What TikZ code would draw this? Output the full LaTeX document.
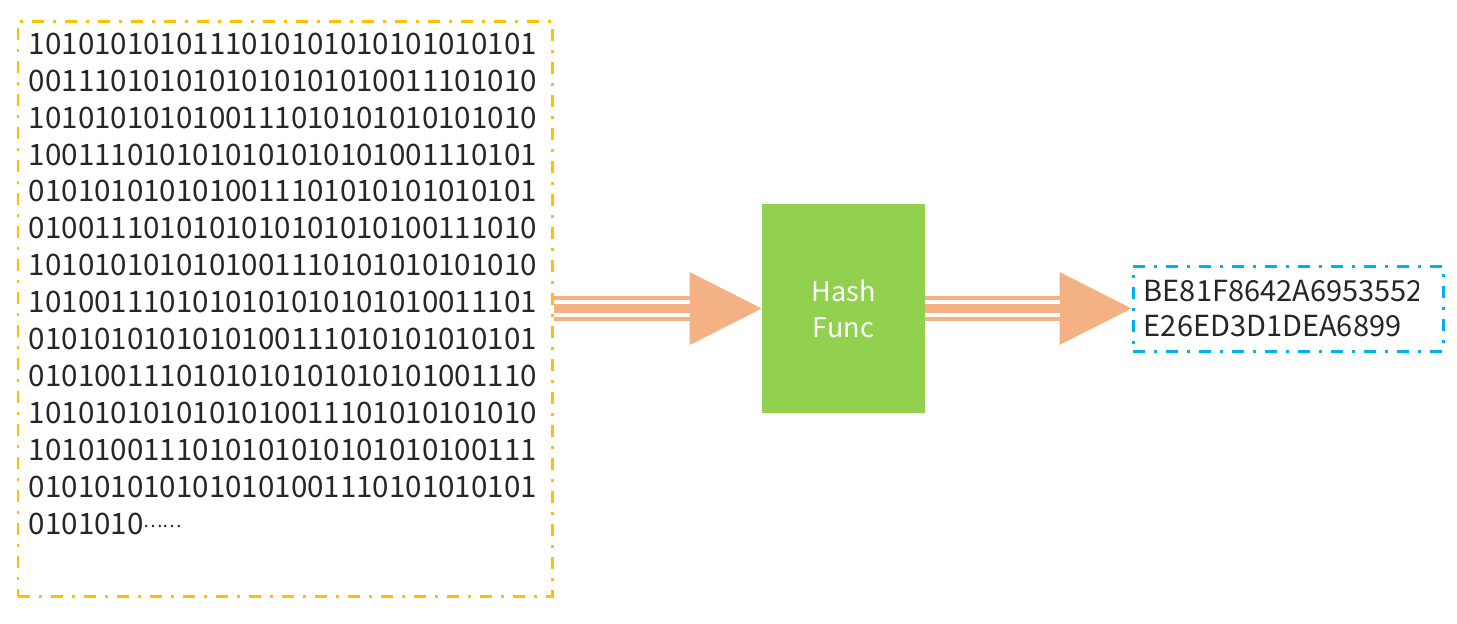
\documentclass[tikz,border=0pt]{standalone}
\usepackage{fontspec}
\usepackage{tikz}
\usetikzlibrary{arrows.meta}
\usetikzlibrary{positioning}

\newfontfamily\hanfont{Noto Sans CJK SC}
\definecolor{boxorange}{HTML}{FFC000}
\definecolor{arrowpeach}{HTML}{F4B183}
\definecolor{funcgreen}{HTML}{92D050}
\definecolor{digestblue}{HTML}{00B0F0}

\begin{document}
\begin{tikzpicture}
		\tikzstyle{dashdot}=[draw,line width=0.06cm,dash pattern=on 0.24cm off 0.18cm on 0.06cm off 0.18cm]
		\tikzstyle{databox}=[dashdot,draw=boxorange,minimum width=10.68cm,minimum height=11.5cm,inner sep=0pt]
		\tikzstyle{digestbox}=[dashdot,draw=digestblue,minimum width=6.2cm,minimum height=1.7cm,inner sep=0pt]
		\tikzstyle{hashbox}=[fill=funcgreen,minimum width=3.26cm,minimum height=4.18cm,text=white,align=center,font=\hanfont\fontsize{15.4pt}{20.4pt}\selectfont]
		\tikzstyle{bits}=[inner sep=0pt,align=left,text=black!85,font=\hanfont\fontsize{16.8pt}{21pt}\selectfont]
		\tikzstyle{digesttext}=[inner sep=0pt,align=left,text=black!85,font=\hanfont\fontsize{16.5pt}{20.4pt}\selectfont]
		\tikzstyle{triple}=[draw=arrowpeach,line width=0.5cm,-{Triangle[length=1.44cm,width=1.46cm,line width=0pt]},
			postaction={draw=white,line width=0.34cm,-,shorten >=1.44cm},
			postaction={draw=arrowpeach,line width=0.19cm,-,shorten >=1.44cm}]
		
		\useasboundingbox (0,0) rectangle (29.14,-12.46);
		
		\node[databox](input) at (5.7,-6.17){};
		\node[bits,below right=0.26cm and 0.24cm of input.north west](bits){%
			1010101010111010101010101010101\\
			0011101010101010101010011101010\\
			1010101010100111010101010101010\\
			1001110101010101010101001110101\\
			0101010101010011101010101010101\\
			0100111010101010101010100111010\\
			1010101010101001110101010101010\\
			1010011101010101010101010011101\\
			0101010101010100111010101010101\\
			0101001110101010101010101001110\\
			1010101010101010011101010101010\\
			1010100111010101010101010100111\\
			0101010101010101001110101010101\\
			0101010\raisebox{3.5pt}{\fontsize{10.4pt}{10.4pt}\selectfont ……}};
		
		\node[hashbox](hash) at (16.87,-6.17){Hash\\Func};
		
		\node[digestbox](digest) at (25.76,-6.17){};
		\begin{scope}
			\clip (digest.north west) rectangle ([xshift=-0.52cm]digest.south east);
			\node[digesttext,below right=0.3cm and 0.24cm of digest.north west](code){BE81F8642A6953552\\E26ED3D1DEA6899};
		\end{scope}
		
		\draw[triple] (input.east) -- (hash.west);
		\draw[triple] (hash.east) -- (digest.west);
\end{tikzpicture}
\end{document}
